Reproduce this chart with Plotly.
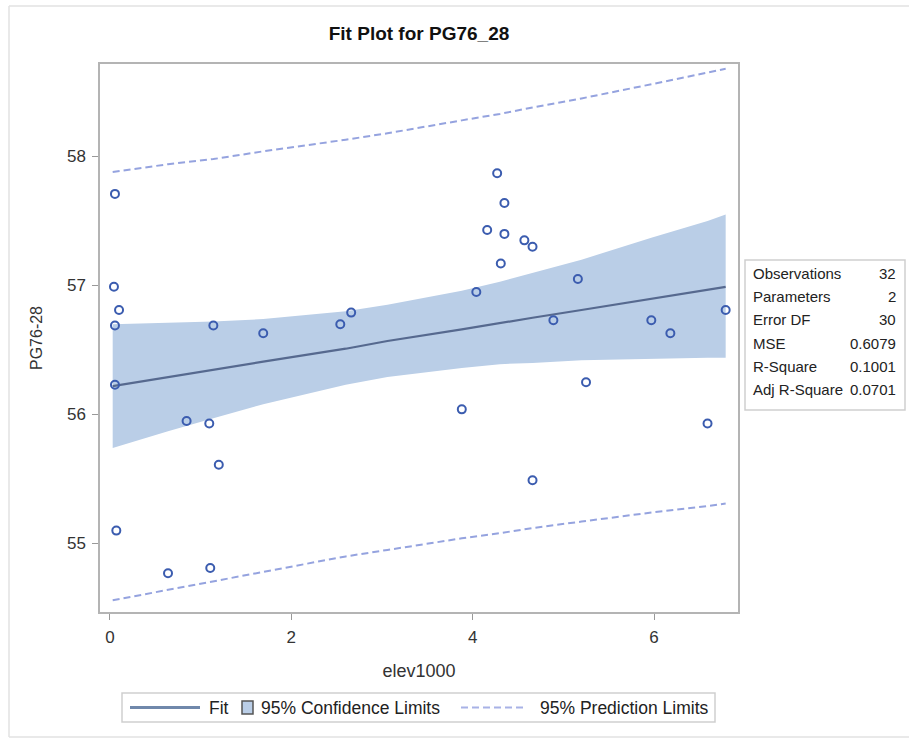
import plotly.graph_objects as go

# ---------------- data ----------------
elev1000 = [0.055, 0.044, 0.10, 0.055, 0.055, 1.14, 1.69, 2.54, 2.66, 0.845,
            1.095, 1.20, 0.07, 0.64, 1.106, 4.27, 4.35, 4.16, 4.35, 4.57,
            4.66, 4.31, 4.04, 5.16, 4.89, 5.97, 6.18, 6.79, 5.25, 3.88,
            6.59, 4.66]
pg76_28 = [57.71, 56.99, 56.81, 56.69, 56.23, 56.69, 56.63, 56.70, 56.79, 55.95,
           55.93, 55.61, 55.10, 54.77, 54.81, 57.87, 57.64, 57.43, 57.40, 57.35,
           57.30, 57.17, 56.95, 57.05, 56.73, 56.73, 56.63, 56.81, 56.25, 56.04,
           55.93, 55.49]

band_x = [0.03, 0.64, 1.14, 1.69, 2.60, 3.06, 3.88, 4.30, 4.66, 5.20, 5.97, 6.59, 6.79]
fit_y = [56.22, 56.29, 56.35, 56.41, 56.51, 56.57, 56.66, 56.71, 56.75, 56.81, 56.90, 56.97, 56.99]
ci_upper = [56.70, 56.71, 56.72, 56.74, 56.80, 56.85, 56.96, 57.03, 57.10, 57.20, 57.37, 57.50, 57.55]
ci_lower = [55.74, 55.87, 55.97, 56.08, 56.23, 56.29, 56.36, 56.39, 56.40, 56.42, 56.43, 56.44, 56.44]
pi_upper = [57.88, 57.94, 57.98, 58.04, 58.13, 58.18, 58.28, 58.33, 58.38, 58.45, 58.56, 58.65, 58.68]
pi_lower = [54.56, 54.64, 54.71, 54.78, 54.90, 54.95, 55.04, 55.08, 55.12, 55.17, 55.24, 55.29, 55.31]

x_ticks = [0, 2, 4, 6]
y_ticks = [55, 56, 57, 58]

stat_labels = ["Observations", "Parameters", "Error DF", "MSE", "R-Square", "Adj R-Square"]
stat_values = ["32", "2", "30", "0.6079", "0.1001", "0.0701"]

legend_labels = ["Fit", "95% Confidence Limits", "95% Prediction Limits"]

# ---------------- layout constants ----------------
W, H = 909, 738
PL, PR, PT, PB = 100, 738, 64, 612          # plot area in pixels
FONT = "Liberation Sans, Arial, sans-serif"

C_MARK = "#3b5caf"
C_FIT = "#56698f"
C_BAND = "#bacee7"
C_PI = "#95a3df"
C_FRAME = "#b4b4b4"
C_BOX = "#cfcfcf"


def pxx(px):
    return (px - PL) / (PR - PL)


def pxy(py):
    return (PB - py) / (PB - PT)


fig = go.Figure()

# confidence band
fig.add_trace(go.Scatter(
    x=band_x + band_x[::-1], y=ci_upper + ci_lower[::-1],
    fill="toself", fillcolor=C_BAND, line=dict(width=0), mode="lines",
    hoverinfo="skip", showlegend=False))

# fit line
fig.add_trace(go.Scatter(
    x=band_x, y=fit_y, mode="lines", line=dict(color=C_FIT, width=2.2),
    showlegend=False))

# prediction limits
for yy in (pi_upper, pi_lower):
    fig.add_trace(go.Scatter(
        x=band_x, y=yy, mode="lines",
        line=dict(color=C_PI, width=2, dash="7px,4px"), showlegend=False))

# observations
fig.add_trace(go.Scatter(
    x=elev1000, y=pg76_28, mode="markers",
    marker=dict(symbol="circle-open", size=8, color=C_MARK, line=dict(width=2, color=C_MARK)),
    showlegend=False))

shapes = []
annotations = []

# outer light border
shapes.append(dict(type="line", xref="paper", yref="paper",
                   x0=pxx(9), x1=pxx(909), y0=pxy(6), y1=pxy(6),
                   line=dict(color="#e2e2e2", width=1.5)))
shapes.append(dict(type="line", xref="paper", yref="paper",
                   x0=pxx(9), x1=pxx(9), y0=pxy(6), y1=pxy(737),
                   line=dict(color="#e2e2e2", width=1.5)))
shapes.append(dict(type="line", xref="paper", yref="paper",
                   x0=pxx(9), x1=pxx(909), y0=pxy(737), y1=pxy(737),
                   line=dict(color="#e2e2e2", width=1.5)))

# stats table
shapes.append(dict(type="rect", xref="paper", yref="paper",
                   x0=pxx(745), x1=pxx(905), y0=pxy(410), y1=pxy(260),
                   line=dict(color=C_BOX, width=1.5), fillcolor="white"))
row_y0, row_dy = 273.3, 23.33
for i, (lab, val) in enumerate(zip(stat_labels, stat_values)):
    yy = pxy(row_y0 + i * row_dy)
    annotations.append(dict(xref="paper", yref="paper", x=pxx(751), y=yy,
                            text=lab, showarrow=False, xanchor="left", yanchor="middle",
                            font=dict(family=FONT, size=15, color="#222")))
    annotations.append(dict(xref="paper", yref="paper", x=pxx(898), y=yy,
                            text=val, showarrow=False, xanchor="right", yanchor="middle",
                            font=dict(family=FONT, size=15, color="#222")))

# legend (drawn manually)
LY = 707.5
shapes.append(dict(type="rect", xref="paper", yref="paper",
                   x0=pxx(122), x1=pxx(715), y0=pxy(722), y1=pxy(693),
                   line=dict(color=C_BOX, width=1.5), fillcolor="white"))
shapes.append(dict(type="line", xref="paper", yref="paper",
                   x0=pxx(130), x1=pxx(200), y0=pxy(LY), y1=pxy(LY),
                   line=dict(color="#7088ab", width=3)))
shapes.append(dict(type="rect", xref="paper", yref="paper",
                   x0=pxx(242), x1=pxx(253), y0=pxy(714), y1=pxy(701),
                   line=dict(color="#555", width=1.5), fillcolor=C_BAND))
shapes.append(dict(type="line", xref="paper", yref="paper",
                   x0=pxx(461), x1=pxx(527), y0=pxy(LY), y1=pxy(LY),
                   line=dict(color="#a8b2e6", width=2, dash="7px,4px")))
for lab, xpos in zip(legend_labels, (207, 259, 538)):
    annotations.append(dict(xref="paper", yref="paper", x=pxx(xpos), y=pxy(LY),
                            text=lab, showarrow=False, xanchor="left", yanchor="middle",
                            font=dict(family=FONT, size=17.5, color="#222")))

fig.update_layout(
    width=W, height=H,
    margin=dict(l=PL, r=W - PR, t=PT, b=H - PB, pad=0),
    paper_bgcolor="white", plot_bgcolor="white",
    title=dict(text="Fit Plot for PG76_28", x=0.5, xref="paper", xanchor="center",
               y=1 - 33 / H, yref="container", yanchor="middle",
               font=dict(family=FONT, size=19, color="#111", weight=700)),
    font=dict(family=FONT, size=16, color="#333"),
    shapes=shapes, annotations=annotations,
    showlegend=False,
)

fig.update_xaxes(
    range=[-0.11, 6.926], tickvals=x_ticks, ticktext=[str(t) for t in x_ticks],
    showgrid=False, zeroline=False, showline=True, linecolor=C_FRAME, linewidth=1.5,
    mirror=True, ticks="outside", ticklen=6, tickcolor="#999", tickwidth=1,
    ticklabelstandoff=3,
    tickfont=dict(family=FONT, size=17, color="#333"),
    title=dict(text="elev1000", standoff=18, font=dict(family=FONT, size=18, color="#333")))
fig.update_yaxes(
    range=[54.469, 58.717], tickvals=y_ticks, ticktext=[str(t) for t in y_ticks],
    showgrid=False, zeroline=False, showline=True, linecolor=C_FRAME, linewidth=1.5,
    mirror=True, ticks="outside", ticklen=6, tickcolor="#999", tickwidth=1,
    ticklabelstandoff=3,
    tickfont=dict(family=FONT, size=17, color="#333"),
    title=dict(text="PG76-28", standoff=20, font=dict(family=FONT, size=16, color="#333")))

fig.write_html("out.html", config={"displayModeBar": False},
               post_script="document.body.style.margin='0';")
